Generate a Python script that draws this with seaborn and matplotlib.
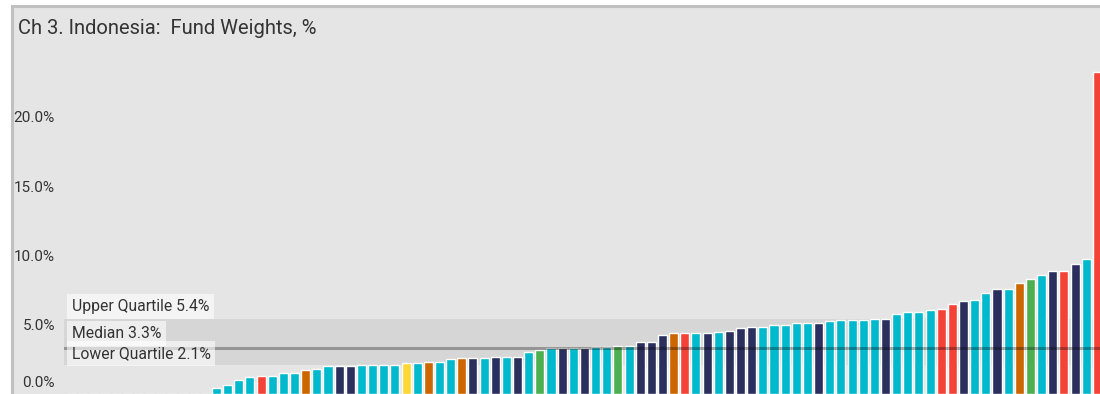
import matplotlib
matplotlib.use("Agg")
import matplotlib.pyplot as plt
import matplotlib.transforms as mtransforms
from matplotlib.patches import Rectangle
import seaborn as sns
import pandas as pd

# Fund weights in Indonesia (%), sorted ascending; funds with no holding are 0
weights = [0.0] * 13 + [
    0.46, 0.65, 1.01, 1.23, 1.30, 1.30, 1.52, 1.52, 1.73, 1.81,
    2.02, 2.02, 2.02, 2.09, 2.09, 2.09, 2.09, 2.24, 2.24, 2.31,
    2.31, 2.53, 2.60, 2.60, 2.60, 2.67,
    2.67, 2.67, 3.03, 3.18, 3.32, 3.32, 3.32, 3.32, 3.39, 3.39,
    3.47, 3.47, 3.75, 3.75, 4.26, 4.40, 4.40, 4.40, 4.40, 4.48,
    4.55, 4.77, 4.84, 4.84, 4.98, 4.98, 5.12,
    5.12, 5.12, 5.27, 5.34, 5.34, 5.34, 5.41, 5.41, 5.78, 5.92,
    5.92, 6.07, 6.14, 6.50, 6.72, 6.79, 7.30, 7.59, 7.59, 8.02,
    8.31, 8.60, 8.89, 8.89, 9.40, 9.76, 23.25,
]

# Fund group of each bar
groups = ["c"] * 13 + [
    "c", "c", "c", "c", "r", "c", "c", "c", "o", "c",
    "c", "n", "n", "c", "c", "c", "c", "y", "c", "o",
    "c", "c", "o", "n", "c", "n",
    "c", "n", "c", "g", "c", "n", "c", "n", "c", "c",
    "g", "c", "n", "n", "n", "o", "r", "c", "n", "c",
    "n", "n", "n", "c", "c", "c", "c",
    "c", "n", "c", "c", "c", "c", "c", "n", "c", "c",
    "c", "c", "r", "r", "n", "c", "c", "n", "c", "o",
    "g", "c", "n", "r", "n", "c", "r",
]

palette = {
    "c": "#00B9CD",
    "n": "#2B2F5D",
    "o": "#CC6600",
    "r": "#F44336",
    "g": "#4CAF50",
    "y": "#FDD835",
}

upper_quartile = 5.4
median = 3.3
lower_quartile = 2.1

title = "Ch 3. Indonesia:  Fund Weights, %"
yticks = [0, 5, 10, 15, 20]

df = pd.DataFrame({"pos": range(len(weights)), "weight": weights, "group": groups})

sns.set_theme(style="white")
plt.rcParams["font.family"] = ["Roboto", "DejaVu Sans"]

W, H = 1100, 394
fig = plt.figure(figsize=(W / 100, H / 100), dpi=100, facecolor="white")

# panel background with a light frame on the left and top
fig.patches.append(Rectangle((11.5 / W, -0.1), 1.2, (H - 5.5) / H + 0.1,
                             transform=fig.transFigure, facecolor="#E5E5E5",
                             edgecolor="#C0C0C0", linewidth=2.2, zorder=-5))

ax_left, ax_top = 64, 45
ax = fig.add_axes([ax_left / W, 0, (W - ax_left) / W, (H - ax_top) / H])
ax.set_facecolor("none")
ax.set_zorder(2)

sns.barplot(data=df, x="pos", y="weight", hue="group", palette=palette,
            dodge=False, width=0.81, saturation=1, legend=False, ax=ax,
            zorder=2)

px_per_pct = 13.85
ax.set_ylim(0, (H - ax_top) / px_per_pct)
pitch = 11.15
first = 13
ax.set_xlim(first - (216.5 - ax_left) / pitch, first + (W - 216.5) / pitch)

# inter-quartile band and median line
ax.axhspan(lower_quartile, upper_quartile, color="#D6D6D6", zorder=1, lw=0)
ax.axhline(median, color="black", alpha=0.3, lw=2.2, zorder=3)

lbl_size = 11.3
lbl_pad = 0.3
pad_pt = lbl_size * lbl_pad
label_kw = dict(fontsize=lbl_size, color="#333333", ha="left", va="bottom",
                zorder=4,
                bbox=dict(boxstyle=f"square,pad={lbl_pad}", facecolor="white",
                          alpha=0.6, edgecolor="none"))
trans = mtransforms.blended_transform_factory(ax.transAxes, ax.transData)
for text, val, dy in [(f"Upper Quartile {upper_quartile}%", upper_quartile, pad_pt + 0.4),
                      (f"Median {median}%", median, pad_pt + 1.8),
                      (f"Lower Quartile {lower_quartile}%", lower_quartile, pad_pt - 0.6)]:
    ax.annotate(text, xy=(0.0075, val), xycoords=trans,
                xytext=(0, dy), textcoords="offset points", **label_kw)

ax.set_yticks(yticks)
ax.set_yticklabels([f"{t:.1f}%" for t in yticks])
ax.tick_params(axis="y", length=4.5, width=1.2, color="#F5F5F5", pad=2,
               labelsize=11, labelcolor="#333333")
zero_lbl = ax.get_yticklabels()[0]
zero_lbl.set_verticalalignment("bottom")
zero_lbl.set_transform(zero_lbl.get_transform() +
                       mtransforms.ScaledTranslation(0, 3 / 72, fig.dpi_scale_trans))
ax.set_xticks([])
ax.set_xlabel("")
ax.set_ylabel("")
for s in ax.spines.values():
    s.set_visible(False)

fig.text(18 / W, 1 - 28 / H, title, fontsize=14.5, color="#333333",
         ha="left", va="center")

fig.savefig("out.png", dpi=100, facecolor=fig.get_facecolor())
